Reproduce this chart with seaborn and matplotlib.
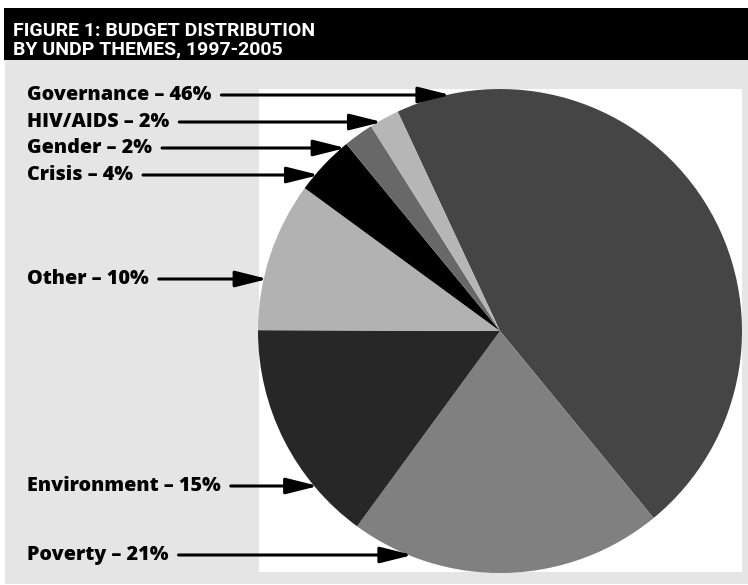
import numpy as np
import matplotlib
matplotlib.use("Agg")
import matplotlib.pyplot as plt
from matplotlib.patches import Rectangle
import seaborn as sns

# ---- data ----
themes = ["Governance", "Poverty", "Environment", "Other", "Crisis", "Gender", "HIV/AIDS"]
shares = [46, 21, 15, 10, 4, 2, 2]
slice_colors = ["#454545", "#808080", "#272727", "#b2b2b2", "#000000", "#686868", "#b6b6b6"]
label_order = ["Governance", "HIV/AIDS", "Gender", "Crisis", "Other", "Environment", "Poverty"]
label_y_px = [95, 122, 148, 175, 279, 486, 555]
title_lines = ["FIGURE 1: BUDGET DISTRIBUTION", "BY UNDP THEMES, 1997-2005"]

sns.set_theme(style="white")
plt.rcParams["font.family"] = ["Open Sans", "DejaVu Sans"]

W, H = 748, 585
fig = plt.figure(figsize=(W / 100, H / 100), dpi=100)
fig.patch.set_facecolor("white")

bg = fig.add_axes([0, 0, 1, 1])
bg.set_xlim(0, W)
bg.set_ylim(H, 0)
bg.axis("off")

# panels
bg.add_patch(Rectangle((5, 60), W - 5, 524, facecolor="#e5e5e5", edgecolor="none", zorder=0))
bg.add_patch(Rectangle((4, 8), W - 4, 52, facecolor="#000000", edgecolor="none", zorder=1))
bg.add_patch(Rectangle((259, 89), 483, 483, facecolor="white", edgecolor="none", zorder=1))

# title
for line, yb in zip(title_lines, [35.5, 54]):
    bg.text(13, yb, line, color="white", fontsize=14, fontweight="bold",
            family=["Roboto", "DejaVu Sans"], ha="left", va="baseline", zorder=3)

# pie
cx, cy, r = 500, 331, 242
pie_ax = fig.add_axes([(cx - r) / W, 1 - (cy + r) / H, 2 * r / W, 2 * r / H])
pie_ax.pie(shares, colors=slice_colors, startangle=115, counterclock=False,
           radius=1, wedgeprops=dict(linewidth=0, antialiased=True))
pie_ax.set_xlim(-1, 1)
pie_ax.set_ylim(-1, 1)
pie_ax.set_aspect("auto")
pie_ax.axis("off")
pie_ax.set_zorder(2)

# labels and arrows
share_map = dict(zip(themes, shares))
texts = []
for name, ypx in zip(label_order, label_y_px):
    t = bg.text(27, ypx, f"{name} \u2013 {share_map[name]}%", fontsize=14.2, fontweight=800,
                color="black", ha="left", va="center", zorder=3)
    texts.append(t)

fig.canvas.draw()
renderer = fig.canvas.get_renderer()
ann_ax = fig.add_axes([0, 0, 1, 1])
ann_ax.set_xlim(0, W)
ann_ax.set_ylim(H, 0)
ann_ax.axis("off")
ann_ax.set_zorder(5)
for t, ypx in zip(texts, label_y_px):
    bb = t.get_window_extent(renderer)
    x_start = bb.x1 + 10
    dy = (ypx - cy) / r
    x_tip = cx - r * np.sqrt(max(0.0, 1 - dy * dy)) + 4
    ann_ax.annotate("", xy=(x_tip, ypx), xytext=(x_start, ypx),
                    arrowprops=dict(arrowstyle="-|>,head_length=1.4,head_width=0.35",
                                    color="black", lw=2.2, shrinkA=0, shrinkB=0,
                                    mutation_scale=14))

fig.savefig("out.png", dpi=100)
